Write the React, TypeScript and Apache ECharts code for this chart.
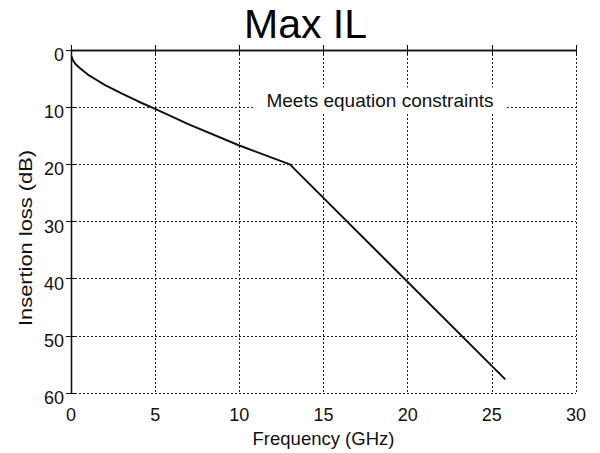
import React, { useEffect, useRef } from "react";
import * as echarts from "echarts";

const titleText = "Max IL";
const xName = "Frequency (GHz)";
const yName = "Insertion loss (dB)";
const noteText = "Meets equation constraints";
const freqGHz = [0.03, 0.1, 0.25, 0.5, 1, 1.5, 2, 3, 4, 5, 7, 10, 13, 25.8];
const lossDb = [1.1, 1.7, 2.4, 3.1, 4.3, 5.2, 6.1, 7.6, 9.0, 10.3, 13.0, 16.7, 20.0, 57.6];

const FONT = "Arial, 'Liberation Sans', sans-serif";

export default function App() {
  const ref = useRef<HTMLDivElement>(null);
  useEffect(() => {
    if (!ref.current) return;
    const chart = echarts.init(ref.current, null, { renderer: "svg" });
    const dotted = { color: "#222", width: 1, type: [2, 2] as any };
    const axisLine = { show: true, lineStyle: { color: "#111", width: 1.3 } };
    const tick = { show: true, inside: true, length: 5, lineStyle: { color: "#111" } };
    chart.setOption({
      animation: false,
      backgroundColor: "#fff",
      grid: { left: 71, right: 24, top: 50, bottom: 52, containLabel: false },
      xAxis: [
        {
          type: "value",
          min: 0,
          max: 30,
          interval: 5,
          position: "bottom",
          name: xName,
          nameLocation: "middle",
          nameGap: 35,
          nameTextStyle: { fontFamily: FONT, fontSize: 18.5, color: "#111" },
          axisLine,
          axisTick: tick,
          axisLabel: { fontFamily: FONT, fontSize: 18, color: "#111", margin: 13 },
          splitLine: { show: true, lineStyle: dotted },
        },
        {
          type: "value",
          min: 0,
          max: 30,
          interval: 5,
          position: "top",
          axisLine,
          axisTick: tick,
          axisLabel: { show: false },
          splitLine: { show: false },
        },
      ],
      yAxis: [
        {
          type: "value",
          min: 0,
          max: 60,
          interval: 10,
          inverse: true,
          position: "left",
          axisLine,
          axisTick: tick,
          axisLabel: {
            fontFamily: FONT,
            fontSize: 18,
            color: "#111",
            margin: 7,
            verticalAlign: "top",
            lineHeight: 10,
          },
          splitLine: { show: true, lineStyle: dotted },
        },
        {
          type: "value",
          min: 0,
          max: 60,
          interval: 10,
          inverse: true,
          position: "right",
          axisLine,
          axisTick: tick,
          axisLabel: { show: false },
          splitLine: { show: false },
        },
      ],
      series: [
        {
          type: "line",
          data: freqGHz.map((f, i) => [f, lossDb[i]]),
          showSymbol: false,
          lineStyle: { color: "#111", width: 2 },
          xAxisIndex: 0,
          yAxisIndex: 0,
        },
      ],
      graphic: [
        {
          type: "text",
          x: 305.5,
          y: 24,
          style: {
            text: titleText,
            fontFamily: FONT,
            fontSize: 41,
            fill: "#000",
            textAlign: "center",
            textVerticalAlign: "middle",
          },
        },
        {
          type: "text",
          x: 25,
          y: 238,
          rotation: Math.PI / 2,
          scaleX: 1.15,
          style: {
            text: yName,
            fontFamily: FONT,
            fontSize: 19,
            fill: "#111",
            textAlign: "center",
            textVerticalAlign: "middle",
          },
        },
        {
          type: "text",
          x: 380,
          y: 100,
          z: 100,
          style: {
            text: noteText,
            fontFamily: FONT,
            fontSize: 19,
            fill: "#111",
            textAlign: "center",
            textVerticalAlign: "middle",
            backgroundColor: "#fff",
            padding: [3, 12, 3, 12],
          },
        },
      ],
    });
    return () => chart.dispose();
  }, []);
  return (
    <div
      ref={ref}
      style={{ position: "fixed", left: 0, top: 0, width: 600, height: 453, background: "#fff" }}
    />
  );
}
